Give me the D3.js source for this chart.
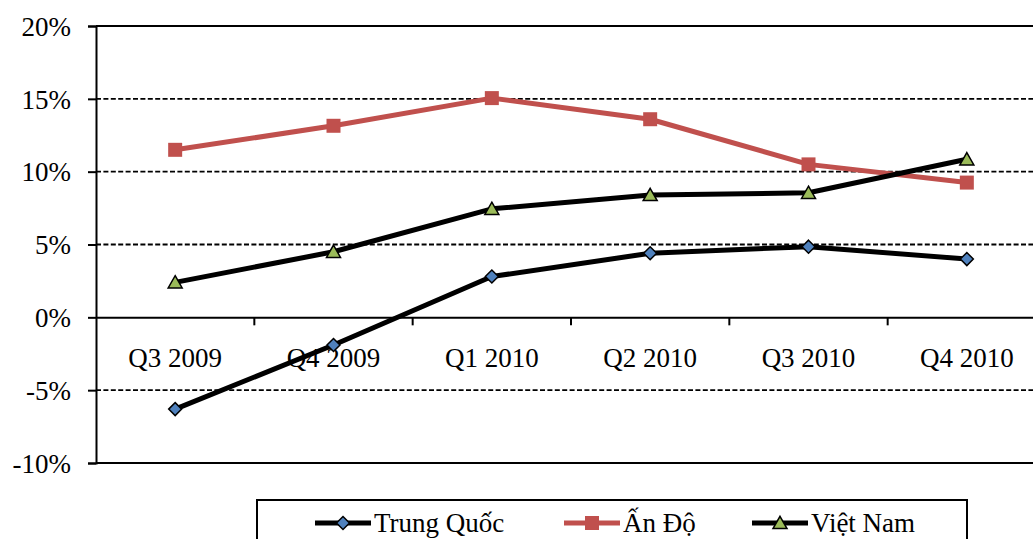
<!DOCTYPE html>
<html>
<head>
<meta charset="utf-8">
<script src="https://cdn.jsdelivr.net/npm/d3@7/dist/d3.min.js"></script>
<style>
  html, body { margin: 0; padding: 0; background: #fff; }
  svg { display: block; }
  text { font-family: "Liberation Serif", "Times New Roman", serif; fill: #000; }
</style>
</head>
<body>
<svg id="chart" width="1033" height="539"></svg>
<script>
// Quarterly growth rates, in percent
const quarters = ["Q3 2009", "Q4 2009", "Q1 2010", "Q2 2010", "Q3 2010", "Q4 2010"];
const trungQuoc = [-6.3, -1.9, 2.8, 4.4, 4.85, 4.0];
const anDo = [11.5, 13.15, 15.05, 13.6, 10.5, 9.25];
const vietNam = [2.4, 4.5, 7.45, 8.4, 8.55, 10.85];
const yTicks = [-10, -5, 0, 5, 10, 15, 20];

const series = [
  { name: "Trung Quốc", values: trungQuoc, stroke: "#000", marker: "diamond", fill: "#4F81BD" },
  { name: "Ấn Độ", values: anDo, stroke: "#C0504D", marker: "square", fill: "#C0504D" },
  { name: "Việt Nam", values: vietNam, stroke: "#000", marker: "triangle", fill: "#9BBB59" }
];

const svg = d3.select("#chart");
const plot = { left: 96, right: 1046, top: 26, bottom: 463 };

const x = d3.scaleBand().domain(quarters).range([plot.left, plot.right]);
const xc = q => x(q) + x.bandwidth() / 2;
const y = d3.scaleLinear().domain([-10, 20]).range([plot.bottom, plot.top]);

// dashed gridlines
svg.append("g")
  .selectAll("line")
  .data(yTicks.filter(t => t !== 0 && t !== 20 && t !== -10))
  .join("line")
  .attr("x1", plot.left).attr("x2", plot.right)
  .attr("y1", d => y(d)).attr("y2", d => y(d))
  .attr("stroke", "#000").attr("stroke-width", 1.8)
  .attr("stroke-dasharray", "5,2.4");

// plot frame (top and bottom)
svg.append("line")
  .attr("x1", plot.left).attr("x2", plot.right)
  .attr("y1", y(20)).attr("y2", y(20))
  .attr("stroke", "#000").attr("stroke-width", 2);
svg.append("line")
  .attr("x1", plot.left).attr("x2", plot.right)
  .attr("y1", y(-10)).attr("y2", y(-10))
  .attr("stroke", "#000").attr("stroke-width", 2);

// y axis
const yAxis = d3.axisLeft(y).tickValues(yTicks).tickSize(8).tickFormat(d => d + "%");
const gy = svg.append("g").attr("transform", `translate(${plot.left},0)`).call(yAxis);
gy.select(".domain").attr("stroke", "#000").attr("stroke-width", 2);
gy.selectAll(".tick line").attr("stroke", "#000").attr("stroke-width", 2);
gy.selectAll(".tick text")
  .attr("x", -25)
  .attr("dy", "0.34em")
  .style("font-size", "27px")
  .style("font-family", "'Liberation Serif', 'Times New Roman', serif")
  .attr("fill", "#000");

// x axis along the zero line, ticks between categories
const xAxis = d3.axisBottom(x).tickSize(0).tickFormat(d => d);
const gx = svg.append("g").attr("transform", `translate(0,${y(0)})`).call(xAxis);
gx.select(".domain").attr("stroke", "#000").attr("stroke-width", 2);
gx.selectAll(".tick text")
  .attr("y", 50)
  .attr("dy", 0)
  .style("font-size", "27px")
  .style("font-family", "'Liberation Serif', 'Times New Roman', serif")
  .attr("fill", "#000");
svg.append("g")
  .selectAll("line")
  .data(quarters.slice(1))
  .join("line")
  .attr("x1", d => x(d)).attr("x2", d => x(d))
  .attr("y1", y(0)).attr("y2", y(0) + 8)
  .attr("stroke", "#000").attr("stroke-width", 2);

// marker path generator
function markerPath(type, s) {
  const h = s / 2;
  if (type === "diamond") return `M0,${-h}L${h},0L0,${h}L${-h},0Z`;
  if (type === "square") return `M${-h},${-h}H${h}V${h}H${-h}Z`;
  return `M0,${-h * 0.95}L${h},${h * 0.8}L${-h},${h * 0.8}Z`;
}
const markerSize = { diamond: 13, square: 14, triangle: 14 };

const line = d3.line().x((d, i) => xc(quarters[i])).y(d => y(d));

series.forEach(s => {
  const g = svg.append("g");
  g.append("path")
    .attr("d", line(s.values))
    .attr("fill", "none")
    .attr("stroke", s.stroke)
    .attr("stroke-width", 5)
    .attr("stroke-linejoin", "round");
  g.selectAll("path.m")
    .data(s.values)
    .join("path")
    .attr("class", "m")
    .attr("transform", (d, i) => `translate(${xc(quarters[i])},${y(d)})`)
    .attr("d", markerPath(s.marker, markerSize[s.marker]))
    .attr("fill", s.fill)
    .attr("stroke", s.marker === "square" ? "none" : "#000")
    .attr("stroke-width", 1.5);
});

// legend
const legend = svg.append("g");
legend.append("rect")
  .attr("x", 257).attr("y", 500)
  .attr("width", 710).attr("height", 60)
  .attr("fill", "#fff").attr("stroke", "#000").attr("stroke-width", 2);

const legendX = [315, 564, 752];
series.forEach((s, i) => {
  const item = legend.append("g").attr("transform", `translate(${legendX[i]},523)`);
  item.append("line")
    .attr("x1", 0).attr("x2", 56).attr("y1", 0).attr("y2", 0)
    .attr("stroke", s.stroke).attr("stroke-width", 5);
  item.append("path")
    .attr("transform", "translate(28,0)")
    .attr("d", markerPath(s.marker, markerSize[s.marker]))
    .attr("fill", s.fill)
    .attr("stroke", s.marker === "square" ? "none" : "#000")
    .attr("stroke-width", 1.5);
  item.append("text")
    .attr("x", 59).attr("y", 9)
    .style("font-size", "27px")
    .text(s.name);
});
</script>
</body>
</html>
